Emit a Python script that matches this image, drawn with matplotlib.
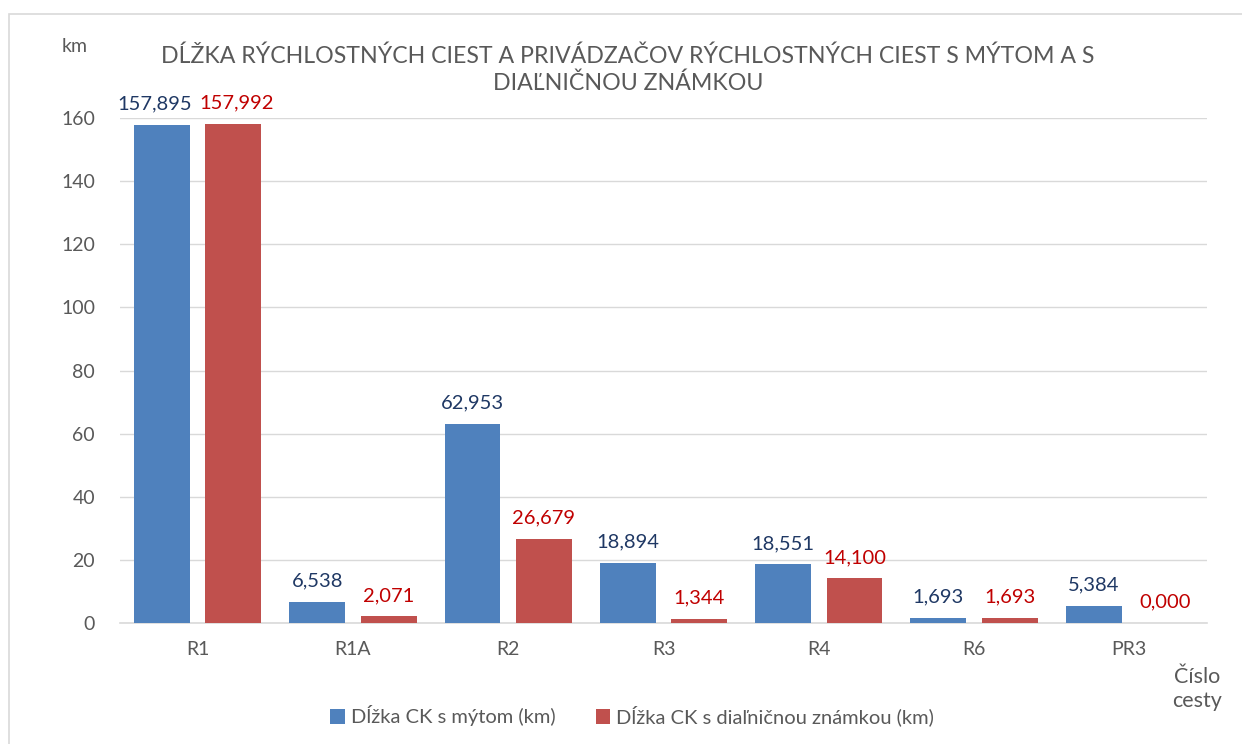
import matplotlib.pyplot as plt
import numpy as np
from matplotlib.patches import Rectangle

plt.rcParams['font.family'] = ['Lato', 'DejaVu Sans']

cesty = ['R1', 'R1A', 'R2', 'R3', 'R4', 'R6', 'PR3']
mytom = [157.895, 6.538, 62.953, 18.894, 18.551, 1.693, 5.384]
znamka = [157.992, 2.071, 26.679, 1.344, 14.100, 1.693, 0.000]
nazvy = ['Dĺžka CK s mýtom (km)', 'Dĺžka CK s diaľničnou známkou (km)']
yticks = [0, 20, 40, 60, 80, 100, 120, 140, 160]

modra = '#4F81BD'
cervena = '#C0504D'
text_seda = '#595959'

fig = plt.figure(figsize=(12.42, 7.44), dpi=100)
fig.patches.append(Rectangle((9 / 1242, -0.1), 1.2, 1 - 14 / 744 + 0.1,
                             transform=fig.transFigure, fill=False,
                             edgecolor='#D9D9D9', linewidth=1.2))
ax = fig.add_axes([120 / 1242, 1 - 623 / 744, 1087 / 1242, 505 / 744])

x = np.arange(len(cesty))
w = 0.36
b1 = ax.bar(x - 0.23, mytom, w, color=modra, label=nazvy[0], zorder=3)
b2 = ax.bar(x + 0.23, znamka, w, color=cervena, label=nazvy[1], zorder=3)

# R1 labels sit close together, push them apart a little like the original
for i, (rect, v) in enumerate(zip(b1, mytom)):
    dx = -5 if i == 0 else 0
    ax.annotate(f'{v:.3f}'.replace('.', ','), (rect.get_x() + rect.get_width() / 2, v),
                xytext=(dx, 9), textcoords='offset points', ha='center', va='bottom',
                fontsize=14.5, color='#1F3864')
for i, (rect, v) in enumerate(zip(b2, znamka)):
    dx = 2 if i == 0 else 0
    ax.annotate(f'{v:.3f}'.replace('.', ','), (rect.get_x() + rect.get_width() / 2, v),
                xytext=(dx, 9), textcoords='offset points', ha='center', va='bottom',
                fontsize=14.5, color='#C00000')

ax.set_xlim(-0.5, len(cesty) - 0.5)
ax.set_ylim(0, 160)
ax.set_yticks(yticks)
ax.set_xticks(x)
ax.set_xticklabels(cesty)
ax.tick_params(axis='both', length=0, labelsize=14, labelcolor=text_seda)
ax.tick_params(axis='x', pad=13)
ax.tick_params(axis='y', pad=18)
ax.grid(axis='y', color='#D9D9D9', linewidth=1, zorder=0)
for s in ['top', 'right', 'left']:
    ax.spines[s].set_visible(False)
ax.spines['bottom'].set_color('#D9D9D9')
ax.spines['bottom'].set_linewidth(1.2)

fig.text(628 / 1242, 1 - 70 / 744,
         'DĹŽKA RÝCHLOSTNÝCH CIEST A PRIVÁDZAČOV RÝCHLOSTNÝCH CIEST S MÝTOM A S\nDIAĽNIČNOU ZNÁMKOU',
         ha='center', va='center', fontsize=16.7, color=text_seda, linespacing=1.3)
fig.text(75 / 1242, 1 - 47 / 744, 'km', ha='center', va='center', fontsize=14, color=text_seda)
fig.text(1197 / 1242, 1 - 689 / 744, 'Číslo\ncesty', ha='center', va='center',
         fontsize=15.5, color=text_seda, linespacing=1.25)

fig.legend(loc='center', bbox_to_anchor=(632 / 1242, 1 - 716 / 744), ncol=2, frameon=False,
           fontsize=14.5, labelcolor=text_seda, handlelength=0.7, handleheight=0.7,
           handletextpad=0.3, columnspacing=2.0)

fig.savefig('out.png', dpi=100)
